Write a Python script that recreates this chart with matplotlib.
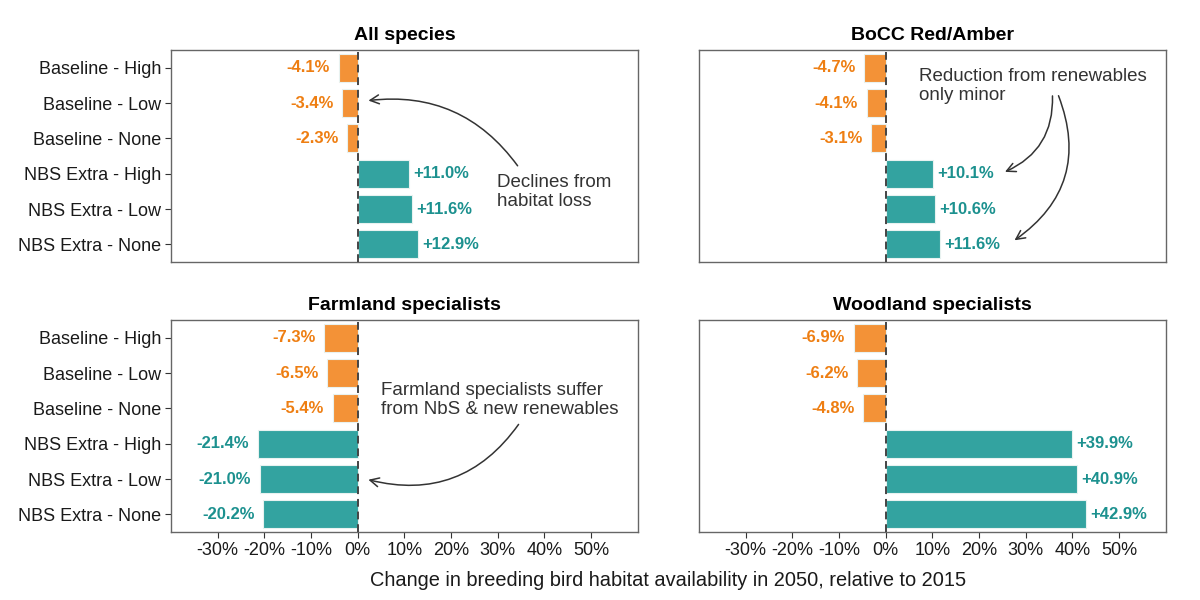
import matplotlib
matplotlib.use("Agg")
import matplotlib.pyplot as plt
import numpy as np

plt.rcParams['font.family'] = ['Liberation Sans', 'DejaVu Sans']

scenarios = ['Baseline - High', 'Baseline - Low', 'Baseline - None',
             'NBS Extra - High', 'NBS Extra - Low', 'NBS Extra - None']
groups = ['All species', 'BoCC Red/Amber', 'Farmland specialists', 'Woodland specialists']

all_species = [-4.1, -3.4, -2.3, 11.0, 11.6, 12.9]
bocc = [-4.7, -4.1, -3.1, 10.1, 10.6, 11.6]
farmland = [-7.3, -6.5, -5.4, -21.4, -21.0, -20.2]
woodland = [-6.9, -6.2, -4.8, 39.9, 40.9, 42.9]
values = [all_species, bocc, farmland, woodland]

xticks = [-30, -20, -10, 0, 10, 20, 30, 40, 50]

bar_cols = ['#F39237'] * 3 + ['#33A3A0'] * 3
txt_cols = ['#EE7E12'] * 3 + ['#1C918F'] * 3

fig = plt.figure(figsize=(12, 6), dpi=100)
lefts = [0.1425, 0.5825]
bottoms = [0.5633, 0.1133]
w, h = 0.389, 0.3533

axes = []
for i, (grp, vals) in enumerate(zip(groups, values)):
    r, c = divmod(i, 2)
    ax = fig.add_axes([lefts[c], bottoms[r], w, h])
    axes.append(ax)
    y = np.arange(len(scenarios))
    ax.barh(y, vals, height=0.8, color=bar_cols, edgecolor='#e8f2f0', linewidth=0.8, zorder=2)
    ax.axvline(0, color='#444444', lw=1.4, ls=(0, (4, 2.5)), zorder=3)
    for yy, v, tc in zip(y, vals, txt_cols):
        lab = ('+' if v > 0 else '') + f'{v:.1f}%'
        ax.annotate(lab, (v, yy), xytext=(3 if v > 0 else -6, 0), textcoords='offset points',
                    ha='left' if v > 0 else 'right', va='center',
                    fontsize=12, fontweight='bold', color=tc)
    ax.set_xlim(-40, 60)
    ax.set_ylim(5.5, -0.5)
    ax.set_title(grp, fontsize=14, fontweight='bold', pad=7)
    for s in ax.spines.values():
        s.set_color('#666666')
        s.set_linewidth(1.0)
    ax.set_yticks(y)
    if c == 0:
        ax.set_yticklabels(scenarios, fontsize=13, color='#1a1a1a')
        ax.tick_params(axis='y', length=4, color='#333333', pad=3)
    else:
        ax.tick_params(axis='y', left=False, labelleft=False)
    ax.set_xticks(xticks)
    if r == 1:
        ax.set_xticklabels([f'{t}%' for t in xticks], fontsize=13, color='#1a1a1a')
        ax.tick_params(axis='x', length=4, color='#333333', pad=3)
    else:
        ax.tick_params(axis='x', bottom=False, labelbottom=False)

note_col = '#333333'
arrow = dict(arrowstyle='->', color=note_col, lw=1.1, mutation_scale=16)

ax = axes[0]
ax.text(29.9, 3.52, 'Declines from\nhabitat loss', fontsize=13.5, color=note_col,
        ha='left', va='center', linespacing=1.2)
ax.annotate('', xy=(1.7, 0.94), xytext=(34.6, 2.84),
            arrowprops=dict(arrow, connectionstyle='arc3,rad=0.3'))

ax = axes[1]
ax.text(7.05, 0.52, 'Reduction from renewables\nonly minor', fontsize=13.5, color=note_col,
        ha='left', va='center', linespacing=1.2)
ax.annotate('', xy=(25.0, 2.98), xytext=(35.7, 0.72),
            arrowprops=dict(arrow, connectionstyle='arc3,rad=-0.35'))
ax.annotate('', xy=(27.1, 4.93), xytext=(36.8, 0.72),
            arrowprops=dict(arrow, connectionstyle='arc3,rad=-0.4'))

ax = axes[2]
ax.text(4.9, 1.76, 'Farmland specialists suffer\nfrom NbS & new renewables', fontsize=13.5,
        color=note_col, ha='left', va='center', linespacing=1.2)
ax.annotate('', xy=(1.7, 4.0), xytext=(34.8, 2.39),
            arrowprops=dict(arrow, connectionstyle='arc3,rad=-0.35'))

fig.text(0.557, 0.033, 'Change in breeding bird habitat availability in 2050, relative to 2015',
         ha='center', va='center', fontsize=14.4, color='#1a1a1a')

fig.savefig('out.png', dpi=100)
